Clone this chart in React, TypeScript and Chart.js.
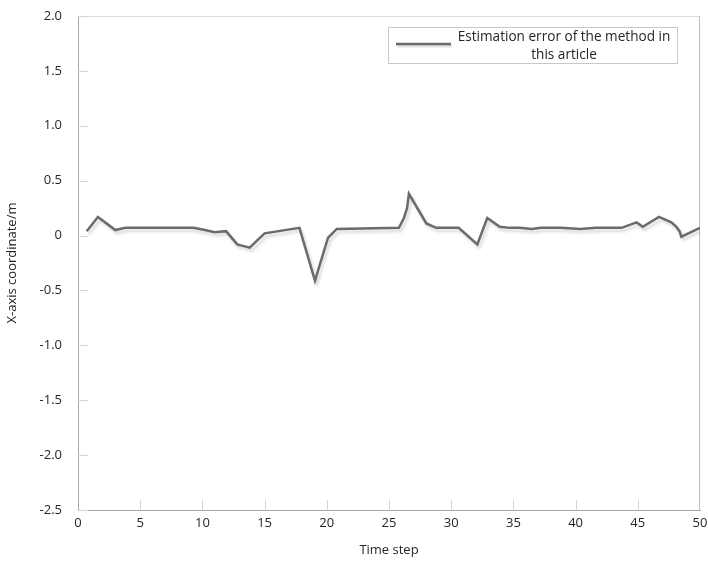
import React, { useEffect, useRef } from "react";
import { Chart, registerables } from "chart.js";

Chart.register(...registerables);

// Time steps at which the estimation error was sampled
const timeSteps = [
  0.7, 1.6, 3.0, 3.8, 9.3, 10.2, 11.0, 11.9, 12.8, 13.8, 15.0, 17.8, 19.05,
  20.1, 20.8, 25.8, 26.2, 26.45, 26.6, 28.0, 28.8, 30.6, 32.1, 32.9, 33.9,
  34.7, 35.5, 36.5, 37.2, 38.8, 40.4, 41.6, 43.7, 44.9, 45.4, 46.7, 47.7,
  48.1, 48.35, 48.5, 50.0,
];

// Estimation error (m) on the X axis
const errors = [
  0.04, 0.17, 0.05, 0.07, 0.07, 0.05, 0.03, 0.04, -0.08, -0.11, 0.02, 0.07,
  -0.41, -0.02, 0.06, 0.07, 0.16, 0.25, 0.38, 0.11, 0.07, 0.07, -0.08, 0.16,
  0.08, 0.07, 0.07, 0.06, 0.07, 0.07, 0.06, 0.07, 0.07, 0.12, 0.08, 0.17,
  0.12, 0.08, 0.04, -0.01, 0.07,
];

const xRange = [0, 50];
const xStep = 5;
const yRange = [-2.5, 2.0];
const yStep = 0.5;

const seriesLabel = "Estimation error of the method in this article";
const legendLines = ["Estimation error of the method in", "this article"];
const xTitle = "Time step";
const yTitle = "X-axis coordinate/m";

const FONT = "'Open Sans', 'Liberation Sans', sans-serif";
const LINE_COLOR = "#6b6b6b";
const TEXT_COLOR = "#262626";

// Light frame on the top/right and short tick marks pointing into the plot
const framePlugin = {
  id: "frameTicks",
  beforeDatasetsDraw(chart: any) {
    const { ctx, chartArea: a, scales } = chart;
    ctx.save();
    ctx.lineWidth = 1;
    ctx.strokeStyle = "#d9d9d9";
    ctx.beginPath();
    ctx.moveTo(a.left, a.top + 0.5);
    ctx.lineTo(a.right, a.top + 0.5);
    ctx.stroke();
    ctx.strokeStyle = "#bdbdbd";
    ctx.beginPath();
    ctx.moveTo(a.right - 0.5, a.top);
    ctx.lineTo(a.right - 0.5, a.bottom);
    ctx.stroke();

    ctx.strokeStyle = "#d4d4d4";
    ctx.beginPath();
    scales.y.ticks.forEach((t: any) => {
      const y = Math.round(scales.y.getPixelForValue(t.value)) + 0.5;
      ctx.moveTo(a.left, y);
      ctx.lineTo(a.left + 10, y);
    });
    scales.x.ticks.forEach((t: any) => {
      if (t.value <= xRange[0] || t.value >= xRange[1]) return;
      const x = Math.round(scales.x.getPixelForValue(t.value)) + 0.5;
      ctx.moveTo(x, a.bottom);
      ctx.lineTo(x, a.bottom - 10);
    });
    ctx.stroke();
    ctx.restore();
  },
};

// Soft drop shadow under the line
const shadowPlugin = {
  id: "lineShadow",
  beforeDatasetDraw(chart: any) {
    const ctx = chart.ctx;
    ctx.save();
    ctx.shadowColor = "rgba(0,0,0,0.16)";
    ctx.shadowBlur = 3;
    ctx.shadowOffsetX = 2;
    ctx.shadowOffsetY = 3;
  },
  afterDatasetDraw(chart: any) {
    chart.ctx.restore();
  },
};

// Boxed legend with a two-line caption
const legendPlugin = {
  id: "boxLegend",
  afterDraw(chart: any) {
    const { ctx } = chart;
    const box = { x: 388.5, y: 27.5, w: 289, h: 36 };
    ctx.save();
    ctx.fillStyle = "#ffffff";
    ctx.fillRect(box.x, box.y, box.w, box.h);
    ctx.strokeStyle = "#c8c8c8";
    ctx.lineWidth = 1;
    ctx.strokeRect(box.x, box.y, box.w, box.h);

    ctx.save();
    ctx.shadowColor = "rgba(0,0,0,0.16)";
    ctx.shadowBlur = 2;
    ctx.shadowOffsetX = 1;
    ctx.shadowOffsetY = 2;
    ctx.strokeStyle = LINE_COLOR;
    ctx.lineWidth = 2.5;
    ctx.beginPath();
    ctx.moveTo(396, 44);
    ctx.lineTo(451, 44);
    ctx.stroke();
    ctx.restore();

    ctx.fillStyle = TEXT_COLOR;
    ctx.font = `13.6px ${FONT}`;
    ctx.textAlign = "center";
    ctx.textBaseline = "middle";
    ctx.fillText(legendLines[0], 564, 37);
    ctx.fillText(legendLines[1], 564, 55);
    ctx.restore();
  },
};

export default function App() {
  const canvasRef = useRef<HTMLCanvasElement | null>(null);

  useEffect(() => {
    const canvas = canvasRef.current;
    if (!canvas) return;
    const points = timeSteps.map((t, i) => ({ x: t, y: errors[i] }));

    const chart = new Chart(canvas, {
      type: "scatter",
      data: {
        datasets: [
          {
            label: seriesLabel,
            data: points,
            showLine: true,
            borderColor: LINE_COLOR,
            borderWidth: 2.5,
            pointRadius: 0,
            pointHoverRadius: 0,
            tension: 0,
            borderJoinStyle: "miter",
          } as any,
        ],
      },
      options: {
        responsive: false,
        animation: false,
        layout: { padding: { top: 16, right: 8, left: 0, bottom: 0 } },
        plugins: {
          legend: { display: false },
          tooltip: { enabled: false },
        },
        scales: {
          x: {
            type: "linear",
            min: xRange[0],
            max: xRange[1],
            grid: { display: false, drawTicks: false, tickLength: 0 },
            border: { display: true, color: "#a8a8a8", width: 1 },
            ticks: {
              stepSize: xStep,
              padding: 5,
              color: TEXT_COLOR,
              font: { family: FONT, size: 13 },
              callback: (v: any) => String(v),
            },
            title: {
              display: true,
              text: xTitle,
              color: TEXT_COLOR,
              font: { family: FONT, size: 13 },
              padding: { top: 0, bottom: 7 },
            },
            afterFit: (s: any) => {
              s.height = 55;
              s.paddingLeft = 0;
              s.paddingRight = 0;
            },
          },
          y: {
            type: "linear",
            min: yRange[0],
            max: yRange[1],
            grid: { display: false, drawTicks: false, tickLength: 0 },
            border: { display: true, color: "#a8a8a8", width: 1 },
            ticks: {
              stepSize: yStep,
              padding: 16,
              color: TEXT_COLOR,
              font: { family: FONT, size: 13 },
              callback: (v: any) => (Math.abs(v) < 1e-9 ? "0" : Number(v).toFixed(1)),
            },
            title: {
              display: true,
              text: yTitle,
              color: TEXT_COLOR,
              font: { family: FONT, size: 13 },
              padding: { top: 4, bottom: 0 },
            },
            afterFit: (s: any) => {
              s.width = 78;
              s.paddingTop = 0;
              s.paddingBottom = 0;
            },
          },
        },
      },
      plugins: [framePlugin, shadowPlugin, legendPlugin],
    });

    return () => chart.destroy();
  }, []);

  return (
    <div style={{ position: "fixed", left: 0, top: 0, width: 708, height: 565, background: "#fff" }}>
      <canvas ref={canvasRef} width={708} height={565} />
    </div>
  );
}
